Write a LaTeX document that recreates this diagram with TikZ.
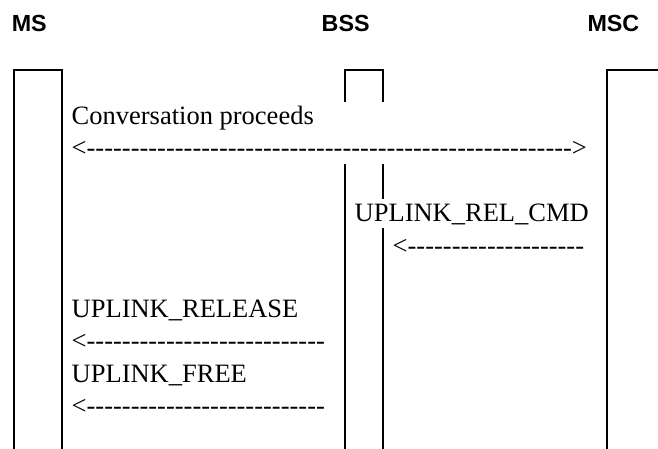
\documentclass[tikz,border=0pt]{standalone}
\usepackage{fontspec}
\setmainfont{Liberation Serif}[Ligatures=TeXOff]
\newfontfamily\headfont{Liberation Sans}
\begin{document}
\begin{tikzpicture}[x=1pt,y=-1pt,
  lifeline/.style={line width=2pt,line cap=rect},
  head/.style={anchor=base west,inner sep=0pt,font=\headfont\bfseries\fontsize{23.3}{28}\selectfont},
  msg/.style={anchor=base west,inner sep=0pt,font=\fontsize{26.5}{32}\selectfont}]
\useasboundingbox (0,0) rectangle (658,449);
% entity headings
\node[head] (ms)  at (11.6,32) {MS};
\node[head] (bss) at (321.5,32) {BSS};
\node[head] (msc) at (587.3,32) {MSC};
% lifelines
\draw[lifeline] (14,449) -- (14,70) -- (62,70) -- (62,449);
\draw[lifeline] (345,101) -- (345,70) -- (383,70) -- (383,101);
\draw[lifeline] (345,165) -- (345,449);
\draw[lifeline] (383,165) -- (383,198);
\draw[lifeline] (383,229) -- (383,449);
\draw[lifeline] (607,449) -- (607,70) -- (658,70);
% messages
\node[msg] (conv)  at (71.5,125) {Conversation proceeds};
\node[msg] (conva) at (71.5,157) {<------------------------------------------------------->};
\node[msg] (rel)   at (354.5,221) {UPLINK\_REL\_CMD};
\node[msg] (rela)  at (392.5,254) {<--------------------};
\node[msg] (upr)   at (71.5,317) {UPLINK\_RELEASE};
\node[msg] (upra)  at (71.5,349) {<---------------------------};
\node[msg] (upf)   at (71.5,382) {UPLINK\_FREE};
\node[msg] (upfa)  at (71.5,414) {<---------------------------};
\end{tikzpicture}
\end{document}
